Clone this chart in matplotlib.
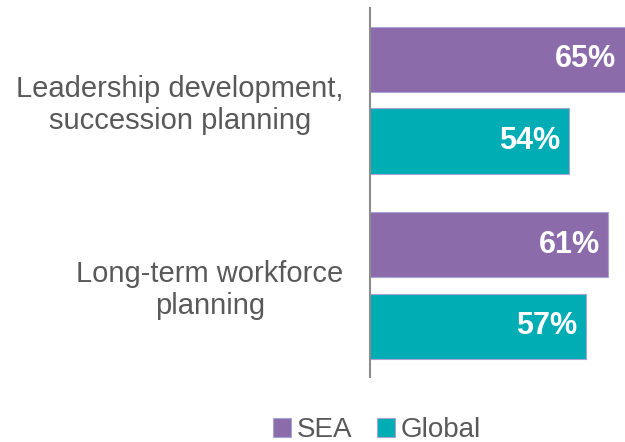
import numpy as np
from matplotlib import pyplot as plt
from matplotlib.patches import Patch

plt.rcParams['font.family'] = ['Liberation Sans', 'DejaVu Sans']

categories = ['Leadership development,\nsuccession planning',
              'Long-term workforce\nplanning']
series_names = ['SEA', 'Global']
sea_values = [65, 61]
global_values = [54, 57]

colors = ['#8C6BAB', '#00ADB5']
text_gray = '#595959'

fig = plt.figure(figsize=(6.25, 4.42), dpi=100)
ax = fig.add_axes([370 / 625, 1 - 377 / 442, 1 - 370 / 625, 369 / 442])

y = np.arange(len(categories))
bar_h = 0.351
offset = 0.22
xmin, xmax = 19.2, 63.9

for vals, dy, color in zip([sea_values, global_values], [-offset, offset], colors):
    ax.barh(y + dy, vals, left=0, height=bar_h, color=color,
            edgecolor='#A7A3D6', linewidth=0.8)
    for yy, v in zip(y + dy, vals):
        ax.text(min(v, xmax) - 1.5, yy, f'{v}%', ha='right', va='center',
                color='white', fontsize=22, fontweight='bold')

ax.set_xlim(xmin, xmax)
ax.set_ylim(1.494, -0.498)
ax.set_yticks(y)
ax.set_yticklabels(categories, fontsize=21, color=text_gray,
                   ha='right', multialignment='center', linespacing=1.15)
ax.tick_params(axis='y', length=0, pad=19)
ax.set_xticks([])

for side in ['top', 'right', 'bottom']:
    ax.spines[side].set_visible(False)
ax.spines['left'].set_color('#8C8C8C')
ax.spines['left'].set_linewidth(1.5)

handles = [Patch(facecolor=c, edgecolor='#A7A3D6', linewidth=0.8) for c in colors]
fig.legend(handles, series_names, loc='center', bbox_to_anchor=(377 / 625, 1 - 430 / 442),
           ncol=2, frameon=False, fontsize=20, handlelength=0.65, handleheight=0.65,
           handletextpad=0.2, columnspacing=0.9, labelcolor=text_gray,
           borderpad=0.1)

plt.savefig('out.png', dpi=100)
plt.close()
